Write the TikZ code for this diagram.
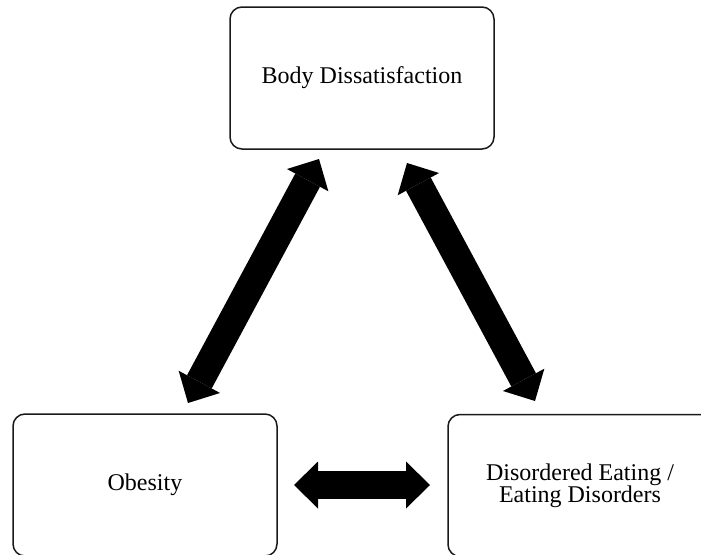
\documentclass[tikz,border=0pt]{standalone}
\usepackage{fontspec}
\setmainfont{Liberation Serif}
\usetikzlibrary{arrows.meta}
\begin{document}
\begin{tikzpicture}[x=1pt,y=-1pt,
  box/.style={draw=black!90, line width=1.5pt, rounded corners=12pt,
    minimum width=264pt, minimum height=142pt, inner sep=0pt,
    align=center, font=\fontsize{24}{22}\selectfont},
  bigarrow/.style={line width=28pt, draw=black,
    {Triangle[length=24pt,width=47pt,line width=0pt]}-{Triangle[length=24pt,width=47pt,line width=0pt]}}]
  \useasboundingbox (0,0) rectangle (701,554);
  % the three boxes
  \node[box] (body) at (362,78) {Body Dissatisfaction};
  \node[box] (obesity) at (145,485) {Obesity};
  \node[box] (eating) at (580,485.5) {Disordered Eating /\\Eating Disorders};
  % arrow tips, just off each box
  \coordinate (bl) at (319,159);
  \coordinate (ob) at (188,403);
  \coordinate (br) at (407,163);
  \coordinate (et) at (535,401);
  \coordinate (oe) at (294,485);
  \coordinate (eo) at (430,485);
  % two-way links
  \draw[bigarrow] (bl) -- (ob);
  \draw[bigarrow] (br) -- (et);
  \draw[bigarrow] (oe) -- (eo);
\end{tikzpicture}
\end{document}
